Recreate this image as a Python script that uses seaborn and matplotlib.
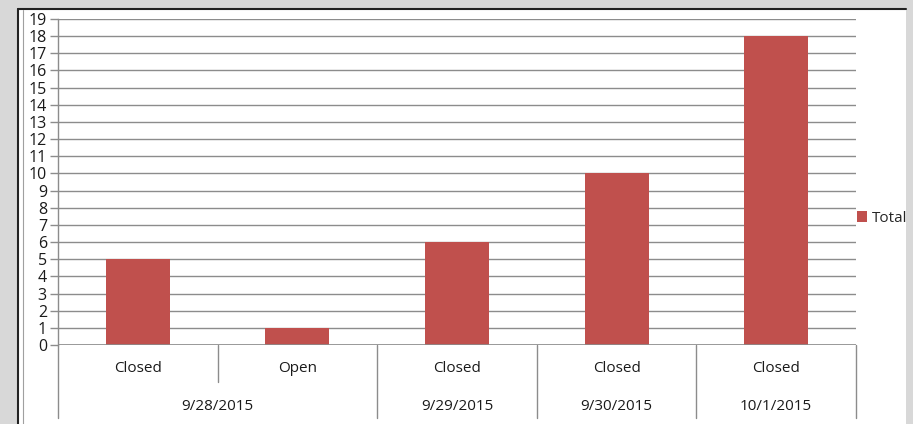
import matplotlib
matplotlib.use("Agg")
import matplotlib.pyplot as plt
import seaborn as sns
import pandas as pd
from matplotlib.patches import Rectangle
from matplotlib.lines import Line2D
import matplotlib.transforms as mtransforms

# ---- data ----
dates = ["9/28/2015", "9/28/2015", "9/29/2015", "9/30/2015", "10/1/2015"]
status = ["Closed", "Open", "Closed", "Closed", "Closed"]
totals = [5, 1, 6, 10, 18]
series_name = "Total"

df = pd.DataFrame({"key": [f"{d}|{s}" for d, s in zip(dates, status)],
                   "status": status, "date": dates, "Total": totals})

sns.set_theme(style="white")
plt.rcParams["font.family"] = ["Open Sans", "DejaVu Sans"]

W, H = 913, 424
fig = plt.figure(figsize=(W / 100, H / 100), dpi=100)
fig.patch.set_facecolor("#d8d8d8")

# screenshot frame
fig.patches.append(Rectangle((18 / W, 0), (906 - 18) / W, (H - 9) / H,
                             transform=fig.transFigure, facecolor="white",
                             edgecolor="none", zorder=-10))
fig.add_artist(Line2D([18 / W, 906 / W], [1 - 9 / H, 1 - 9 / H], transform=fig.transFigure,
                      color="#222222", lw=1.5))
fig.add_artist(Line2D([18 / W, 18 / W], [0, 1 - 9 / H], transform=fig.transFigure,
                      color="#222222", lw=1.5))
fig.add_artist(Line2D([22.5 / W, 22.5 / W], [0, 1 - 10 / H], transform=fig.transFigure,
                      color="#a0a0a0", lw=0.8))

left, right, top, bottom = 58, 856, 19, 345
ax = fig.add_axes([left / W, 1 - bottom / H, (right - left) / W, (bottom - top) / H])
ax.set_facecolor("white")
ax.set_zorder(5)

color = "#C0504D"
sns.barplot(data=df, x="key", y="Total", color=color, width=0.4, ax=ax,
            saturation=1, edgecolor="none", linewidth=0)

n = len(totals)
ax.set_xlim(-0.5, n - 0.5)
ax.set_ylim(0, 19)
ax.set_yticks(range(0, 20))
ax.yaxis.grid(True, color="#8c8c8c", lw=1)
ax.set_axisbelow(True)
ax.set_xticks([])
ax.set_xlabel("")
ax.set_ylabel("")
for s in ["top", "right", "bottom"]:
    ax.spines[s].set_visible(False)
ax.spines["left"].set_color("#8c8c8c")
ax.spines["left"].set_linewidth(1)
ax.tick_params(axis="y", length=6, width=1, color="#8c8c8c", labelsize=11.5,
               pad=2, labelcolor="#1a1a1a", left=True)

# bottom axis line
ax.axhline(0, color="#8c8c8c", lw=1.2, zorder=3)

# multi-level category axis
trans = mtransforms.blended_transform_factory(ax.transData, ax.transAxes)
ph = bottom - top
y_lvl1 = -(382 - bottom) / ph
y_lvl2 = -(418 - bottom) / ph
y_txt1 = -(369 - bottom) / ph
y_txt2 = -(406 - bottom) / ph
lc = "#8c8c8c"

for i, s in enumerate(status):
    ax.text(i, y_txt1, s, transform=trans, ha="center", va="center",
            fontsize=11, color="#1a1a1a")
for i in range(1, n):
    if dates[i] == dates[i - 1]:
        ax.plot([i - 0.5, i - 0.5], [0, y_lvl1], transform=trans, color=lc,
                lw=1, clip_on=False)
groups = []
start = 0
for i in range(1, n + 1):
    if i == n or dates[i] != dates[start]:
        groups.append((start, i - 1, dates[start]))
        start = i
bounds = sorted({g[0] - 0.5 for g in groups} | {g[1] + 0.5 for g in groups})
for b in bounds:
    ax.plot([b, b], [0, y_lvl2], transform=trans, color=lc, lw=1, clip_on=False)
for g0, g1, label in groups:
    ax.text((g0 + g1) / 2, y_txt2, label, transform=trans, ha="center",
            va="center", fontsize=11, color="#1a1a1a")

# legend
handle = Rectangle((0, 0), 1, 1, facecolor=color, edgecolor="none")
leg = fig.legend([handle], [series_name], loc="center left",
                 bbox_to_anchor=(843 / W, 1 - 218 / H), frameon=False,
                 handlelength=0.7, handleheight=0.7, handletextpad=0.3,
                 fontsize=11)
leg.set_zorder(6)

fig.savefig("out.png", dpi=100, facecolor=fig.get_facecolor())
